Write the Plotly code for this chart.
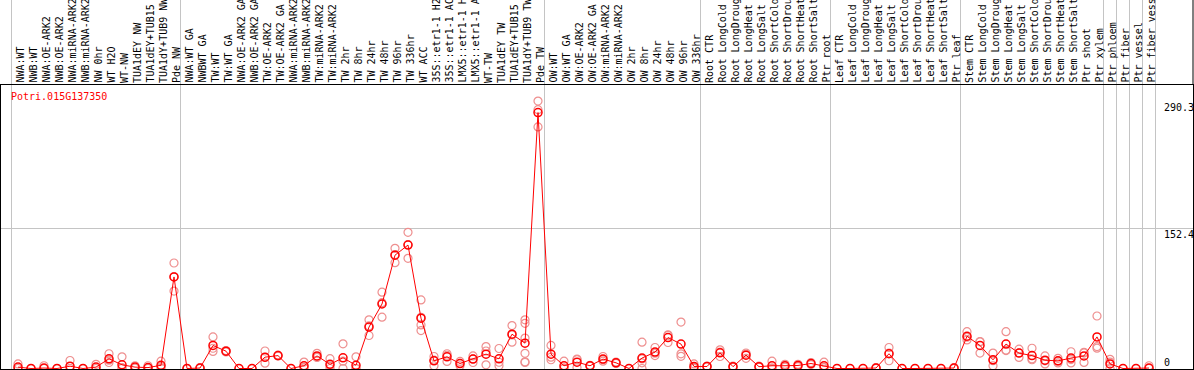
import plotly.graph_objects as go

gene_id = "Potri.015G137350"

groups = [
    ["NWA:WT", "NWB:WT", "NWA:OE-ARK2", "NWB:OE-ARK2", "NWA:miRNA-ARK2", "NWB:miRNA-ARK2",
     "NW 0hr", "WT H2O", "WT-NW", "TUA1dEY NW", "TUA1dEY+TUB15", "TUA1dY+TUB9 NW", "Pde NW"],
    ["NWA:WT GA", "NWBWT GA", "TW:WT", "TW:WT GA", "NWA:OE-ARK2 GA", "NWB:OE-ARK2 GA",
     "TW:OE-ARK2", "TW:OE-ARK2 GA", "NWA:miRNA-ARK2", "NWB:miRNA-ARK2", "TW:miRNA-ARK2",
     "TW:miRNA-ARK2", "TW 2hr", "TW 8hr", "TW 24hr", "TW 48hr", "TW 96hr", "TW 336hr",
     "WT ACC", "35S::etr1-1 H2", "35S::etr1-1 AC", "LMX5::etr1-1 H", "LMX5::etr1-1 A",
     "WT-TW", "TUA1dEY TW", "TUA1dEY+TUB15", "TUA1dY+TUB9 TW", "Pde TW"],
    ["OW:WT", "OW:WT GA", "OW:OE-ARK2", "OW:OE-ARK2 GA", "OW:miRNA-ARK2", "OW:miRNA-ARK2",
     "OW 2hr", "OW 8hr", "OW 24hr", "OW 48hr", "OW 96hr", "OW 336hr"],
    ["Root CTR", "Root LongCold", "Root LongDroug", "Root LongHeat", "Root LongSalt",
     "Root ShortCold", "Root ShortDrou", "Root ShortHeat", "Root ShortSalt", "Ptr root"],
    ["Leaf CTR", "Leaf LongCold", "Leaf LongDroug", "Leaf LongHeat", "Leaf LongSalt",
     "Leaf ShortCold", "Leaf ShortDrou", "Leaf ShortHeat", "Leaf ShortSalt", "Ptr leaf"],
    ["Stem CTR", "Stem LongCold", "Stem LongDroug", "Stem LongHeat", "Stem LongSalt",
     "Stem ShortCold", "Stem ShortDrou", "Stem ShortHeat", "Stem ShortSalt", "Ptr shoot",
     "Ptr xylem"],
    ["Ptr phloem"],
    ["Ptr fiber"],
    ["Ptr vessel"],
    ["Ptr fiber vess"],
]

means = [
    1.5, 0, 0.5, 0, 2.5, 0, 1.5, 10.5, 4, 1.5, 1, 3.5, 99.4,
    0, 0.5, 25, 18.8, 0, 0, 12.3, 14, 0, 3, 13.7, 4.5, 11.6, 3.5, 45, 70, 123, 134,
    54.6, 8.3, 12.7, 5.4, 10.2, 15.6, 10.5, 37.2, 27.5, 277.8,
    15.6, 3, 6.9, 3, 10.2, 6.2, 0, 11.3, 17.8, 33.6, 26.5, 2.2,
    2.2, 17, 2, 14.5, 2, 3, 3, 3.3, 5.4, 3,
    0, 0, 0, 0.5, 16, 0, 0, 0, 0, 0.5,
    35, 25, 9.4, 26.5, 16.7, 14, 9, 8.3, 11.3, 13.7, 34.3,
    5, 0, 0, 0.5,
]

replicates = [
    [5, 0], [0, 0], [3, 0], [0, 0], [8.7, 0], [0, 0], [4.5, 0], [16, 6.5, 9], [12.7, 0, 1],
    [3, 0.5], [3, 0], [8, 2, 0.5], [114.5, 84, 99.7],
    [0, 0], [1, 0], [34.3, 18.5, 22], [19.5, 18, 18.9], [0], [0], [19, 5.8, 12], [14.5, 13.5],
    [0], [7, 1, 1], [16.5, 12, 12.6], [10.7, 0, 2.8], [26.8, 0, 8], [12.7, 0, 0],
    [52.8, 35.8, 46.4], [82.8, 55.7, 71.5], [130.4, 114.9, 123.7], [147.8, 119.6, 134.6],
    [74.4, 47.3, 41.2, 55.5], [13, 3, 9], [16, 7.7, 14.4], [7.7, 3, 5.5], [13.7, 6.5, 10.4],
    [23.8, 4, 19], [21.7, 3, 6.8], [46.6, 28.6, 36.4], [52.8, 49, 33, 16.5, 6.5, 7.2],
    [290.3, 262.2, 280.9],
    [25, 9.5, 12.3], [8, 0.5, 0.5], [10.2, 1, 9.5], [3.5, 2.5], [13, 8, 9.6], [7, 5.4], [0],
    [28.6, 6.2, 0, 10.4], [22.8, 14, 16.6], [36.6, 28.2, 36], [50.4, 15.9, 13.2], [5, 0.5, 1.1],
    [2.5, 2], [20.3, 13, 17.7], [2.5, 1.5], [16.8, 11, 15.7], [2.5, 1.5], [8, 0.5, 0.5],
    [4.5, 1.5], [4.5, 2.1], [6.5, 4.3], [6.9, 1, 1.1],
    [0], [0], [0], [1, 0], [22.8, 8.4, 16.8], [0], [0], [0], [0], [1, 0],
    [40, 31, 34], [29.3, 16.7, 29], [16.7, 3, 8.5], [40, 20, 19.5], [21, 12, 17.1],
    [22, 9.5, 10.5], [13.7, 5, 8.3], [11, 6, 7.9], [18.2, 6, 9.7], [17.6, 6.6, 16.9],
    [57, 23.8, 22.1],
    [10, 7, 0], [0], [0], [3, 0],
]

ytick_values = [0, 152.4, 290.3]
ytick_labels = ["0", "152.4", "290.3"]

# ---------------------------------------------------------------
categories = [c for g in groups for c in g]
xs = list(range(len(categories)))

W, H = 1194, 370
ML, MR, MT, MB = 1, 1, 85, 1
step = 13.0
first_px = 18.0
x0 = (ML - first_px) / step
x1 = (W - MR - first_px) / step
px_per_unit = 0.9213
zero_px = 368.5
y0 = (zero_px - (H - MB)) / px_per_unit
y1 = (zero_px - MT) / px_per_unit
plot_h = H - MT - MB
top_paper = 1 + MT / plot_h

rx, ry = [], []
for i, reps in enumerate(replicates):
    for v in reps:
        rx.append(i)
        ry.append(v)

fig = go.Figure()
fig.add_trace(go.Scatter(
    x=rx, y=ry, mode="markers",
    marker=dict(symbol="circle-open", size=8, color="#ee8f8f", line=dict(width=1.2)),
    hoverinfo="skip", cliponaxis=False,
))
fig.add_trace(go.Scatter(
    x=xs, y=means, mode="lines+markers",
    line=dict(color="#ff0000", width=1),
    marker=dict(symbol="circle-open", size=8, color="#ff0000", line=dict(width=1.5)),
    cliponaxis=False,
))

shapes = []
boundaries = [-0.5]
n = 0
for g in groups:
    n += len(g)
    boundaries.append(n - 0.5)
for b in boundaries:
    shapes.append(dict(type="line", xref="x", yref="paper", x0=b, x1=b, y0=0, y1=top_paper,
                       line=dict(color="#c4c4c4", width=1), layer="below"))
shapes.append(dict(type="line", xref="paper", yref="paper", x0=1, x1=1, y0=1, y1=top_paper,
                   line=dict(color="black", width=1)))

annotations = []
lab_font = dict(family="DejaVu Sans Mono", size=10, color="black")
for i, c in enumerate(categories):
    annotations.append(dict(x=i, y=1 + 1 / plot_h, xref="x", yref="paper", text=c,
                            textangle=-90, showarrow=False, xanchor="center", yanchor="bottom",
                            xshift=2.5, font=lab_font, borderpad=0))
annotations.append(dict(x=(9 - ML) / (W - ML - MR), y=1 - 12 / plot_h, xref="paper", yref="paper",
                        text=gene_id, showarrow=False, xanchor="left", yanchor="middle",
                        font=dict(family="DejaVu Sans Mono", size=10, color="#ff0000")))
for v, t in zip(ytick_values, ytick_labels):
    annotations.append(dict(x=(1163 - ML) / (W - ML - MR), y=v, xref="paper", yref="y", text=t,
                            showarrow=False, xanchor="left",
                            yanchor="bottom" if v == 0 else "top",
                            font=lab_font, borderpad=0))

fig.update_layout(
    width=W, height=H, margin=dict(l=ML, r=MR, t=MT, b=MB),
    paper_bgcolor="white", plot_bgcolor="white", showlegend=False,
    shapes=shapes, annotations=annotations,
    xaxis=dict(range=[x0, x1], showgrid=False, zeroline=False, showticklabels=False, ticks="",
               showline=True, mirror=True, linecolor="black", linewidth=1),
    yaxis=dict(range=[y0, y1], tickvals=[152.4], showgrid=True, gridcolor="#c4c4c4", gridwidth=1,
               showticklabels=False, ticks="", zeroline=False,
               showline=True, mirror=True, linecolor="black", linewidth=1),
)

fig.write_html(
    "out.html",
    config={"displayModeBar": False},
    post_script="document.body.style.margin='0';document.body.style.padding='0';"
                "document.body.style.overflow='hidden';",
)
